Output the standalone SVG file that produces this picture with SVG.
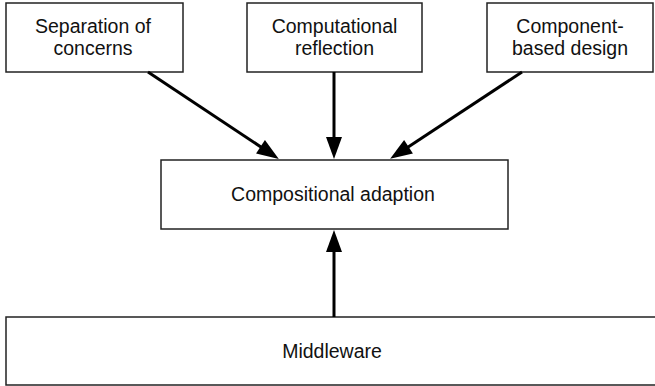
<svg xmlns="http://www.w3.org/2000/svg" width="655" height="386" viewBox="0 0 655 386">
<style>
.box{fill:#fff;stroke:#222;stroke-width:1.5}
.lbl{font-family:"Liberation Sans",Arial,sans-serif;font-size:19.5px;fill:#111;text-anchor:middle}
.arr{stroke:#000;stroke-width:3;fill:none}
</style>
<defs>
<marker id="ah" markerUnits="userSpaceOnUse" markerWidth="22" markerHeight="16" refX="9" refY="8" orient="auto" overflow="visible">
<path d="M0,0 L22,8 L0,16 z" fill="#000"/>
</marker>
</defs>
<rect width="655" height="386" fill="#fff"/>
<g id="n-separation">
<rect class="box" x="6" y="3" width="177" height="69"/>
<text class="lbl" x="93" y="33">Separation of</text>
<text class="lbl" x="93" y="55">concerns</text>
</g>
<g id="n-reflection">
<rect class="box" x="247" y="3" width="175" height="69"/>
<text class="lbl" x="334.5" y="33">Computational</text>
<text class="lbl" x="334.5" y="55">reflection</text>
</g>
<g id="n-component">
<rect class="box" x="487" y="3" width="166" height="69"/>
<text class="lbl" x="570" y="33">Component-</text>
<text class="lbl" x="570" y="55">based design</text>
</g>
<g id="n-compositional">
<rect class="box" x="161" y="160" width="347" height="69"/>
<text class="lbl" x="333" y="201">Compositional adaption</text>
</g>
<g id="n-middleware">
<rect class="box" x="6" y="317" width="660" height="68"/>
<text class="lbl" x="332" y="358">Middleware</text>
</g>
<g id="connectors">
<line class="arr" x1="148" y1="72" x2="268" y2="151.7" marker-end="url(#ah)"/>
<line class="arr" x1="334" y1="72" x2="334" y2="146" marker-end="url(#ah)"/>
<line class="arr" x1="522" y1="72" x2="401" y2="151.7" marker-end="url(#ah)"/>
<line class="arr" x1="334" y1="317" x2="334" y2="243" marker-end="url(#ah)"/>
</g>
</svg>
